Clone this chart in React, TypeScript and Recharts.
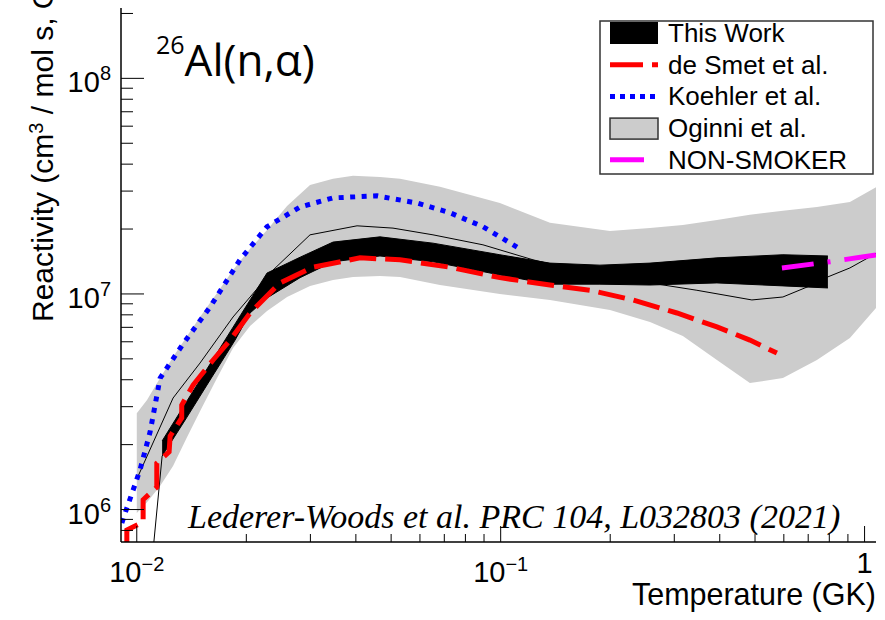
import { Area, ComposedChart, Line, XAxis, YAxis } from 'recharts'

const SANS = '"Liberation Sans", Arial, sans-serif'
const SERIF = '"Liberation Serif", "Times New Roman", serif'
const TITLE_FONT = '"Open Sans", "Noto Sans", sans-serif'

// temperature (GK) / reactivity (cm3 / mol s)
const oginniT = [0.01, 0.01067, 0.01159, 0.01258, 0.01375, 0.01492, 0.01662, 0.01839, 0.02048, 0.0228, 0.02588, 0.02993, 0.03462, 0.03929, 0.0466, 0.0529, 0.0681, 0.0995, 0.1366, 0.1997, 0.2572, 0.3167, 0.3929, 0.484, 0.5965, 0.7396, 0.9113, 1.081]
const oginniHi = [2.8e6, 3.22e6, 4.07e6, 5.1e6, 6.38e6, 7.82e6, 1.01e7, 1.29e7, 1.62e7, 1.98e7, 2.56e7, 3.2e7, 3.42e7, 3.53e7, 3.49e7, 3.42e7, 3.14e7, 2.64e7, 2.14e7, 1.96e7, 2.02e7, 2.09e7, 2.2e7, 2.33e7, 2.43e7, 2.53e7, 2.67e7, 3.14e7]
const oginniLo = [9.63e5, 1.08e6, 1.285e6, 1.59e6, 2.17e6, 2.86e6, 4.07e6, 5.62e6, 7.1e6, 8.34e6, 9.68e6, 1.09e7, 1.16e7, 1.2e7, 1.21e7, 1.2e7, 1.1e7, 1.0e7, 9.38e6, 8.43e6, 7.41e6, 6.38e6, 4.94e6, 3.86e6, 4.07e6, 4.94e6, 6.25e6, 8.7e6]

const oginniMidT = [0.01006, 0.01258, 0.01492, 0.01839, 0.02368, 0.02993, 0.0403, 0.0506, 0.06516, 0.0894, 0.1227, 0.1874, 0.2572, 0.3461, 0.4901, 0.5965, 0.7074, 0.7929, 0.9113, 1.081]
const oginniMid = [1.415e6, 3.29e6, 4.78e6, 7.82e6, 1.29e7, 1.88e7, 2.07e7, 2.02e7, 1.88e7, 1.69e7, 1.44e7, 1.21e7, 1.125e7, 1.04e7, 9.38e6, 9.68e6, 1.09e7, 1.2e7, 1.32e7, 1.55e7]

const thisWorkT = [0.01174, 0.01358, 0.0159, 0.01863, 0.02048, 0.0228, 0.0281, 0.03462, 0.0466, 0.06516, 0.0995, 0.1366, 0.1874, 0.2572, 0.3929, 0.5965, 0.7929]
const thisWorkHi = [2.08e6, 3.09e6, 4.73e6, 7.26e6, 9.38e6, 1.25e7, 1.48e7, 1.74e7, 1.84e7, 1.72e7, 1.52e7, 1.39e7, 1.36e7, 1.39e7, 1.47e7, 1.52e7, 1.5e7]
const thisWorkLo = [1.77e6, 2.6e6, 3.99e6, 6.11e6, 8.16e6, 9.58e6, 1.19e7, 1.41e7, 1.5e7, 1.41e7, 1.225e7, 1.11e7, 1.11e7, 1.1e7, 1.125e7, 1.09e7, 1.066e7]
const thisWorkEdgeT = [0.01102, 0.01174]
const thisWorkEdge = [5.83e5, 1.77e6]

const koehlerT = [0.0091, 0.00935, 0.00977, 0.01021, 0.01088, 0.01159, 0.0134, 0.0159, 0.01922, 0.0228, 0.0281, 0.03462, 0.04573, 0.0589, 0.07256, 0.0894, 0.1109]
const koehler = [8.66e5, 9.95e5, 1.23e6, 1.53e6, 2.29e6, 4.07e6, 5.86e6, 8.7e6, 1.44e7, 2.05e7, 2.53e7, 2.79e7, 2.85e7, 2.64e7, 2.38e7, 2.05e7, 1.65e7]

const deSmetT = [0.00939, 0.00939, 0.01041, 0.01041, 0.01135, 0.01135, 0.01227, 0.01235, 0.01329, 0.01329, 0.01428, 0.01621, 0.01804, 0.02048, 0.02475, 0.0305, 0.04107, 0.0529, 0.07256, 0.0995, 0.1366, 0.176, 0.231, 0.305, 0.3929, 0.484, 0.5742]
const deSmet = [6.84e5, 8.03e5, 8.75e5, 1.11e6, 1.27e6, 1.64e6, 1.85e6, 2.19e6, 2.66e6, 3.05e6, 3.78e6, 4.94e6, 6.11e6, 8.16e6, 1.125e7, 1.33e7, 1.47e7, 1.44e7, 1.33e7, 1.19e7, 1.1e7, 1.04e7, 9.38e6, 8.16e6, 7.03e6, 6.11e6, 5.32e6]

const nonSmokerT = [0.5928, 0.803, 1.081]
const nonSmoker = [1.32e7, 1.41e7, 1.52e7]

const xTicks = [0.01, 0.02, 0.03, 0.04, 0.05, 0.06, 0.07, 0.08, 0.09, 0.1, 0.2, 0.3, 0.4, 0.5, 0.6, 0.7, 0.8, 0.9, 1]
const xLabels = [
  { value: 0.01, base: '10', exp: '−2' },
  { value: 0.1, base: '10', exp: '−1' },
  { value: 1, base: '1', exp: '' },
]
const yTicks = [8e5, 9e5, 1e6, 2e6, 3e6, 4e6, 5e6, 6e6, 7e6, 8e6, 9e6, 1e7, 2e7, 3e7, 4e7, 5e7, 6e7, 7e7, 8e7, 9e7, 1e8, 2e8]
const yLabels = [
  { value: 1e6, base: '10', exp: '6' },
  { value: 1e7, base: '10', exp: '7' },
  { value: 1e8, base: '10', exp: '8' },
]

const legendItems = [
  { name: 'This Work', kind: 'band', color: '#000000' },
  { name: 'de Smet et al.', kind: 'dashdot', color: '#ff0000' },
  { name: 'Koehler et al.', kind: 'dot', color: '#0000ff' },
  { name: 'Oginni et al.', kind: 'box', color: '#cccccc' },
  { name: 'NON-SMOKER', kind: 'line', color: '#ff00ff' },
]

const pairs = (t: number[], r: number[]) => t.map((T, i) => ({ T, r: r[i] }))
const bands = (t: number[], lo: number[], hi: number[]) => t.map((T, i) => ({ T, lo: lo[i], hi: hi[i] }))

const oginniBand = bands(oginniT, oginniLo, oginniHi)
const thisWorkBand = bands(thisWorkT, thisWorkLo, thisWorkHi)

const X_DOMAIN = [0.00905, 1.075]
const Y_DOMAIN = [7.07e5, 2.12e8]
const TICK_FS = 29
const SUP_FS = 20

const near = (a: number, b: number) => Math.abs(a - b) <= Math.abs(b) * 1e-6

function BottomTick(props: any) {
  const { x, y, payload } = props
  const lab = xLabels.find((l) => near(l.value, payload.value))
  return (
    <g>
      <line x1={x} x2={x} y1={y} y2={y - (lab ? 16 : 8)} stroke="#000" />
      {lab && lab.exp && (
        <text x={x} y={y + 40} textAnchor="middle" fontFamily={SANS} fontSize={TICK_FS} fill="#000">
          {lab.base}
          <tspan dy={-11} fontSize={SUP_FS}>{lab.exp}</tspan>
        </text>
      )}
      {lab && !lab.exp && (
        <text x={x} y={y + 31} textAnchor="middle" fontFamily={SANS} fontSize={TICK_FS} fill="#000">
          {lab.base}
        </text>
      )}
    </g>
  )
}

function TopTick(props: any) {
  const { x, y, payload } = props
  const major = xLabels.some((l) => near(l.value, payload.value))
  return <line x1={x} x2={x} y1={y} y2={y + (major ? 16 : 8)} stroke="#000" />
}

function LeftTick(props: any) {
  const { x, y, payload } = props
  const lab = yLabels.find((l) => near(l.value, payload.value))
  return (
    <g>
      <line x1={x} x2={x + (lab ? 23 : 12)} y1={y} y2={y} stroke="#000" />
      {lab && (
        <text x={x - 10} y={y + 14} textAnchor="end" fontFamily={SANS} fontSize={TICK_FS} fill="#000">
          {lab.base}
          <tspan dy={-12} fontSize={SUP_FS}>{lab.exp}</tspan>
        </text>
      )}
    </g>
  )
}

function RightTick(props: any) {
  const { x, y, payload } = props
  const major = yLabels.some((l) => near(l.value, payload.value))
  return <line x1={x} x2={x - (major ? 23 : 12)} y1={y} y2={y} stroke="#000" />
}

function LegendIcon({ kind, color, y }: { kind: string; color: string; y: number }) {
  if (kind === 'band') return <rect x={610} y={y - 11} width={48} height={22} fill={color} />
  if (kind === 'box') return <rect x={610} y={y - 10} width={48} height={21} fill={color} stroke="#333" strokeWidth={1.5} />
  if (kind === 'dashdot')
    return <line x1={610} x2={658} y1={y} y2={y} stroke={color} strokeWidth={5} strokeDasharray="33 9 6 100" />
  if (kind === 'dot')
    return <line x1={610} x2={658} y1={y} y2={y} stroke={color} strokeWidth={5} strokeDasharray="5 5" />
  return <line x1={610} x2={644} y1={y} y2={y} stroke={color} strokeWidth={5} />
}

export default function App() {
  return (
    <div style={{ position: 'absolute', left: 0, top: 0, width: 885, height: 620, background: '#fff' }}>
      <ComposedChart width={885} height={620} margin={{ top: 8, right: 9, bottom: 0, left: 0 }}>
        <XAxis
          xAxisId="b"
          dataKey="T"
          type="number"
          scale="log"
          domain={X_DOMAIN}
          allowDataOverflow
          ticks={xTicks}
          interval={0}
          height={78}
          tickSize={0}
          tickMargin={0}
          tickLine={false}
          tick={BottomTick}
          axisLine={{ stroke: '#000', strokeWidth: 1.5 }}
        />
        <XAxis
          xAxisId="t"
          orientation="top"
          type="number"
          scale="log"
          domain={X_DOMAIN}
          allowDataOverflow
          ticks={xTicks}
          interval={0}
          height={0}
          tickSize={0}
          tickMargin={0}
          tickLine={false}
          tick={TopTick}
          axisLine={{ stroke: '#000', strokeWidth: 1.5 }}
        />
        <YAxis
          yAxisId="l"
          dataKey="r"
          type="number"
          scale="log"
          domain={Y_DOMAIN}
          allowDataOverflow
          ticks={yTicks}
          interval={0}
          width={121}
          tickSize={0}
          tickMargin={0}
          tickLine={false}
          tick={LeftTick}
          axisLine={{ stroke: '#000', strokeWidth: 1.5 }}
        />
        <YAxis
          yAxisId="r"
          orientation="right"
          type="number"
          scale="log"
          domain={Y_DOMAIN}
          allowDataOverflow
          ticks={yTicks}
          interval={0}
          width={0}
          tickSize={0}
          tickMargin={0}
          tickLine={false}
          tick={RightTick}
          axisLine={{ stroke: '#000', strokeWidth: 1.5 }}
        />

        <Area
          xAxisId="b"
          yAxisId="l"
          data={oginniBand}
          dataKey={(d: any) => [d.lo, d.hi]}
          type="linear"
          fill="#cccccc"
          fillOpacity={1}
          stroke="none"
          dot={false}
          activeDot={false}
          isAnimationActive={false}
        />
        <Line
          xAxisId="b"
          yAxisId="l"
          data={pairs(oginniMidT, oginniMid)}
          dataKey="r"
          type="linear"
          stroke="#000"
          strokeWidth={1}
          dot={false}
          activeDot={false}
          isAnimationActive={false}
        />
        <Area
          xAxisId="b"
          yAxisId="l"
          data={thisWorkBand}
          dataKey={(d: any) => [d.lo, d.hi]}
          type="linear"
          fill="#000"
          fillOpacity={1}
          stroke="#000"
          strokeWidth={1}
          dot={false}
          activeDot={false}
          isAnimationActive={false}
        />
        <Line
          xAxisId="b"
          yAxisId="l"
          data={pairs(thisWorkEdgeT, thisWorkEdge)}
          dataKey="r"
          type="linear"
          stroke="#000"
          strokeWidth={1}
          dot={false}
          activeDot={false}
          isAnimationActive={false}
        />
        <Line
          xAxisId="b"
          yAxisId="l"
          data={pairs(deSmetT, deSmet)}
          dataKey="r"
          type="linear"
          stroke="#ff0000"
          strokeWidth={5}
          strokeDasharray="27 9"
          dot={false}
          activeDot={false}
          isAnimationActive={false}
        />
        <Line
          xAxisId="b"
          yAxisId="l"
          data={pairs(koehlerT, koehler)}
          dataKey="r"
          type="linear"
          stroke="#0000ff"
          strokeWidth={5}
          strokeDasharray="5 6.5"
          dot={false}
          activeDot={false}
          isAnimationActive={false}
        />
        <Line
          xAxisId="b"
          yAxisId="l"
          data={pairs(nonSmokerT, nonSmoker)}
          dataKey="r"
          type="linear"
          stroke="#ff00ff"
          strokeWidth={5}
          strokeDasharray="32 14 3 14"
          dot={false}
          activeDot={false}
          isAnimationActive={false}
        />
      </ComposedChart>

      <svg width={885} height={620} style={{ position: 'absolute', left: 0, top: 0, pointerEvents: 'none' }}>
        <text x={156} y={76} fontFamily={TITLE_FONT} fill="#000">
          <tspan fontSize={25} dy={-22}>26</tspan>
          <tspan fontSize={44} dy={22}>Al(n,α)</tspan>
        </text>
        <text x={188} y={528} fontFamily={SERIF} fontStyle="italic" fontSize={34} fill="#000">
          Lederer-Woods et al. PRC 104, L032803 (2021)
        </text>
        <text x={876} y={605} textAnchor="end" fontFamily={SANS} fontSize={30.5} fill="#000">
          Temperature (GK)
        </text>
        <text transform="translate(53,322) rotate(-90)" fontFamily={SANS} fontSize={30} fill="#000">
          Reactivity (cm
          <tspan dy={-10} fontSize={20}>3</tspan>
          <tspan dy={10}> / mol s, GK)</tspan>
        </text>

        <rect x={600} y={21} width={273} height={153} fill="#fff" stroke="#333" strokeWidth={1.5} />
        {legendItems.map((it, i) => {
          const cy = 33 + i * 31.7
          return (
            <g key={it.name}>
              <LegendIcon kind={it.kind} color={it.color} y={cy} />
              <text x={668} y={cy + 9} fontFamily={SANS} fontSize={26} fill="#000">
                {it.name}
              </text>
            </g>
          )
        })}
      </svg>
    </div>
  )
}
